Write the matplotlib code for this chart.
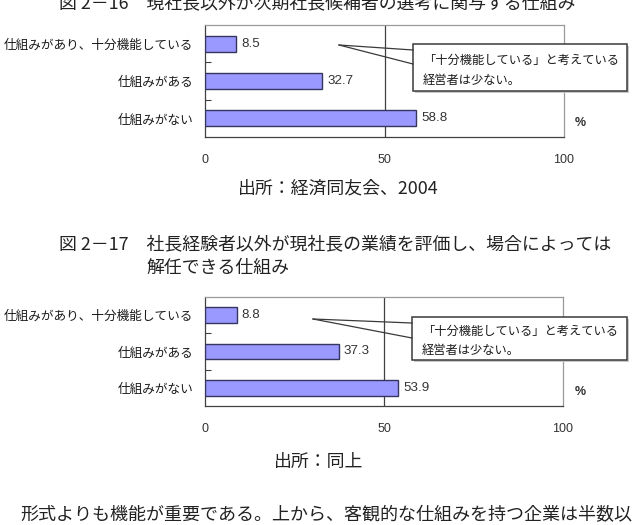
import matplotlib
matplotlib.use("Agg")
import matplotlib.pyplot as plt
from matplotlib.patches import Rectangle
from matplotlib.lines import Line2D

plt.rcParams["font.family"] = ["Noto Sans CJK JP", "DejaVu Sans"]

W, H = 636, 525

categories = ["仕組みがあり、十分機能している", "仕組みがある", "仕組みがない"]
values_216 = [8.5, 32.7, 58.8]
values_217 = [8.8, 37.3, 53.9]
x_ticks = [0, 50, 100]

title_216 = "図 2－16　現社長以外が次期社長候補者の選考に関与する仕組み"
title_217_l1 = "図 2－17　社長経験者以外が現社長の業績を評価し、場合によっては"
title_217_l2 = "解任できる仕組み"
source_216 = "出所：経済同友会、2004"
source_217 = "出所：同上"
callout_l1 = "「十分機能している」と考えている"
callout_l2 = "経営者は少ない。"
body_text = "形式よりも機能が重要である。上から、客観的な仕組みを持つ企業は半数以"

BAR_COLOR = "#9999ff"
BAR_EDGE = "#35355f"
TEXT_COLOR = "#222222"


def fx(x):
    return x / W


def fy(y):
    return 1 - y / H


fig = plt.figure(figsize=(W / 100, H / 100), dpi=100)
fig.patch.set_facecolor("white")


def draw_chart(top, bottom, right, values, callout):
    ax = fig.add_axes([fx(205), fy(bottom), fx(right) - fx(205), fy(top) - fy(bottom)])
    y = range(len(categories))
    ax.barh(y, values, height=0.43, color=BAR_COLOR, edgecolor=BAR_EDGE, linewidth=1.0, zorder=3)
    for yi, v in zip(y, values):
        ax.text(v + 1.5, yi, f"{v:.1f}", va="center", ha="left", fontsize=9.6,
                family="Liberation Sans", color="#333333")
    ax.set_xlim(0, 100)
    ax.set_ylim(len(categories) - 0.5, -0.5)
    ax.axvline(50, color="#404040", linewidth=0.9, zorder=2)
    ax.set_xticks(x_ticks)
    ax.set_xticklabels([str(t) for t in x_ticks], family="Liberation Sans",
                       fontsize=9, color="#333333")
    ax.tick_params(axis="x", length=0, pad=12)
    ax.set_yticks(list(y))
    ax.set_yticklabels(categories, fontsize=9.1, color="#1a1a1a")
    ax.tick_params(axis="y", length=0, pad=8.5)
    ax.set_yticks([0.5, 1.5], minor=True)
    ax.tick_params(axis="y", which="minor", direction="in", length=4, width=0.8, color="#404040")
    for s in ["left", "bottom"]:
        ax.spines[s].set_color("#404040")
        ax.spines[s].set_linewidth(0.9)
    for s in ["top", "right"]:
        ax.spines[s].set_color("#9a9a9a")
        ax.spines[s].set_linewidth(0.9)

    # callout box with pointer
    tip, a1, a2, box = callout
    bx0, by0, bx1, by1 = box
    fig.add_artist(Rectangle((fx(bx0 + 2), fy(by1 + 2)), fx(bx1 - bx0), fy(by0) - fy(by1),
                             transform=fig.transFigure, facecolor="#c8c8c8",
                             edgecolor="none", zorder=4))
    fig.add_artist(Rectangle((fx(bx0), fy(by1)), fx(bx1 - bx0), fy(by0) - fy(by1),
                             transform=fig.transFigure, facecolor="white",
                             edgecolor="#3a3a3a", linewidth=1.1, zorder=5))
    for a in (a1, a2):
        fig.add_artist(Line2D([fx(tip[0]), fx(a[0])], [fy(tip[1]), fy(a[1])],
                              transform=fig.transFigure, color="#3a3a3a",
                              linewidth=0.9, zorder=6))
    ly1 = by0 + (by1 - by0) * 0.34
    ly2 = by0 + (by1 - by0) * 0.78
    fig.text(fx(bx0 + 10), fy(ly1), callout_l1, ha="left", va="center",
             fontsize=8.8, color="#1a1a1a", zorder=7)
    fig.text(fx(bx0 + 10), fy(ly2), callout_l2, ha="left", va="center",
             fontsize=8.8, color="#1a1a1a", zorder=7)
    fig.text(fx(580), fy(bottom - 14), "%", ha="center", va="center",
             fontsize=9, family="Liberation Sans", fontweight="bold", color="#333333")
    return ax


draw_chart(25, 137, 564, values_216,
           ((339, 45), (413, 50), (413, 64), (413, 44, 627, 91)))
draw_chart(297, 406, 563, values_217,
           ((313, 319), (412, 323), (412, 338), (412, 317, 627, 360)))

fig.text(fx(59), fy(3), title_216, ha="left", va="center", fontsize=12.9, color=TEXT_COLOR)
fig.text(fx(338), fy(188), source_216, ha="center", va="center", fontsize=12.9, color=TEXT_COLOR)
fig.text(fx(59), fy(244), title_217_l1, ha="left", va="center", fontsize=12.9, color=TEXT_COLOR)
fig.text(fx(146), fy(268), title_217_l2, ha="left", va="center", fontsize=12.9, color=TEXT_COLOR)
fig.text(fx(319), fy(462), source_217, ha="center", va="center", fontsize=12.9, color=TEXT_COLOR)
fig.text(fx(20), fy(515), body_text, ha="left", va="center", fontsize=13, color=TEXT_COLOR)

fig.savefig("out.png", dpi=100, facecolor="white")
